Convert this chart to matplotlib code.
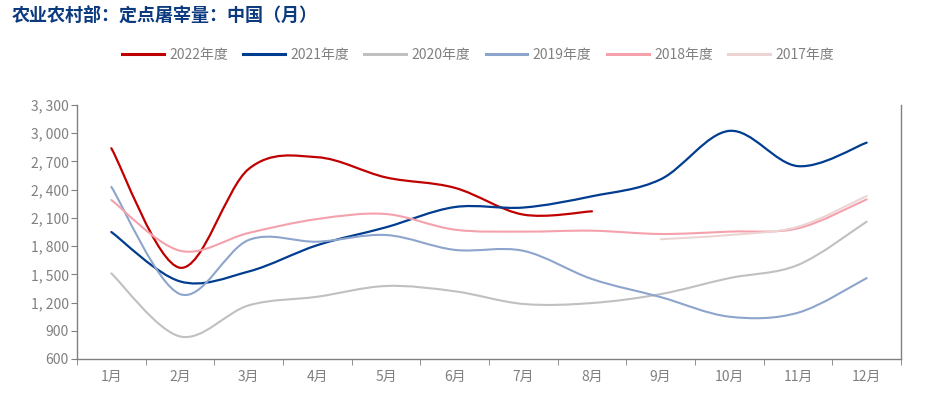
import numpy as np
import matplotlib
matplotlib.use("Agg")
import matplotlib.pyplot as plt
from matplotlib.path import Path
from matplotlib.patches import PathPatch
from matplotlib.lines import Line2D

plt.rcParams['font.family'] = ['Noto Sans CJK SC', 'DejaVu Sans']

months = ['1月', '2月', '3月', '4月', '5月', '6月', '7月', '8月', '9月', '10月', '11月', '12月']

# monthly values (None = no data)
y2022 = [2840, 1570, 2620, 2745, 2530, 2420, 2135, 2170, None, None, None, None]
y2021 = [1950, 1425, 1530, 1810, 2000, 2215, 2210, 2330, 2510, 3025, 2650, 2900]
y2020 = [1510, 840, 1170, 1262, 1376, 1320, 1185, 1195, 1290, 1460, 1600, 2060]
y2019 = [2430, 1290, 1865, 1847, 1918, 1760, 1750, 1450, 1258, 1050, 1092, 1460]
y2018 = [2290, 1751, 1940, 2088, 2141, 1975, 1954, 1964, 1929, 1954, 1989, 2297]
y2017 = [None, None, None, None, None, None, None, None, 1873, 1918, 2006, 2333]

series = [
    ('2022年度', y2022, '#C00000', 1.6),
    ('2021年度', y2021, '#003C8F', 1.6),
    ('2020年度', y2020, '#C0C0C0', 1.5),
    ('2019年度', y2019, '#8DA4CC', 1.5),
    ('2018年度', y2018, '#F4A1AC', 1.5),
    ('2017年度', y2017, '#EDD4D4', 1.5),
]

GRAY = '#808080'


def smooth_path(xs, ys):
    # catmull-rom style bezier through the points (like office "smoothed line")
    pts = np.column_stack([xs, ys]).astype(float)
    verts = [pts[0]]
    codes = [Path.MOVETO]
    n = len(pts)
    for i in range(n - 1):
        p0 = pts[i - 1] if i > 0 else pts[i]
        p1 = pts[i]
        p2 = pts[i + 1]
        p3 = pts[i + 2] if i + 2 < n else pts[i + 1]
        c1 = p1 + (p2 - p0) / 6.0
        c2 = p2 - (p3 - p1) / 6.0
        verts += [c1, c2, p2]
        codes += [Path.CURVE4] * 3
    return Path(verts, codes)


fig = plt.figure(figsize=(9.39, 3.94), dpi=100)
ax = fig.add_axes([77 / 939, 1 - 359 / 394, (901 - 77) / 939, (359 - 105) / 394])

handles = []
for name, vals, color, lw in series:
    xs = [i for i, v in enumerate(vals) if v is not None]
    ys = [v for v in vals if v is not None]
    patch = PathPatch(smooth_path(xs, ys), facecolor='none', edgecolor=color,
                      lw=lw, capstyle='round', joinstyle='round')
    ax.add_patch(patch)
    handles.append(Line2D([], [], color=color, lw=2.2, label=name))

ax.set_xlim(-0.5, 11.5)
ax.set_ylim(600, 3300)
ax.set_yticks(range(600, 3301, 300))
ax.set_yticklabels([f"{v:,}".replace(',', ', ') for v in range(600, 3301, 300)])
ax.set_xticks(range(12))
ax.set_xticklabels(months)
ax.set_xticks(np.arange(-0.5, 12, 1), minor=True)
ax.tick_params(axis='x', which='major', length=0, pad=8, labelsize=10, labelcolor=GRAY)
ax.tick_params(axis='x', which='minor', length=4, color=GRAY, direction='out')
ax.tick_params(axis='y', length=4, color=GRAY, labelsize=10, labelcolor=GRAY, pad=2)

ax.spines['top'].set_visible(False)
for s in ['left', 'bottom', 'right']:
    ax.spines[s].set_color(GRAY)
    ax.spines[s].set_linewidth(1.0)

fig.text(12 / 939, 1 - 15 / 394, '农业农村部：定点屠宰量：中国（月）', fontsize=13,
         fontweight='bold', color='#0C3A7E', va='center', ha='left')

fig.legend(handles=handles, loc='center', bbox_to_anchor=(478 / 939, 1 - 55 / 394),
           ncol=6, frameon=False, fontsize=10, labelcolor=GRAY, handlelength=3.0,
           handletextpad=0.4, columnspacing=1.1)

fig.savefig('out.png', dpi=100)
